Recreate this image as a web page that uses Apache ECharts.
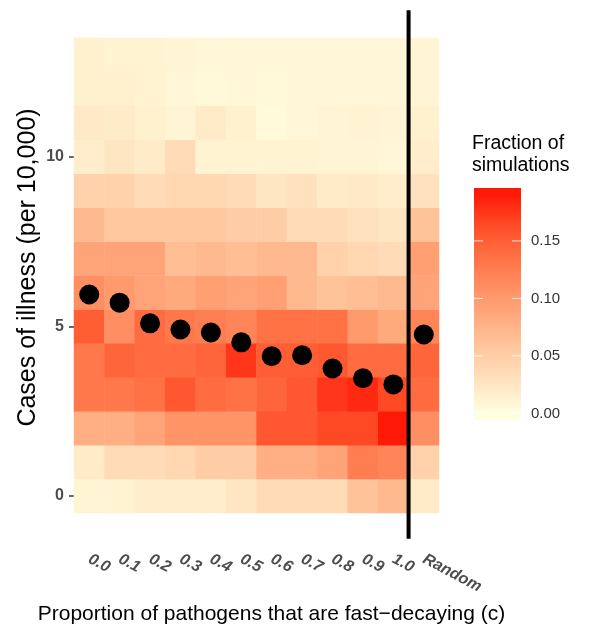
<!DOCTYPE html>
<html>
<head>
<meta charset="utf-8">
<script src="https://cdn.jsdelivr.net/npm/echarts@6/dist/echarts.min.js"></script>
<style>
  html, body { margin: 0; padding: 0; background: #fff; }
  #chart { width: 597px; height: 630px; }
</style>
</head>
<body>
<div id="chart"></div>
<script>
var xLabels = ['0.0', '0.1', '0.2', '0.3', '0.4', '0.5', '0.6', '0.7', '0.8', '0.9', '1.0', 'Random']
var yRows = ['0', '1', '2', '3', '4', '5', '6', '7', '8', '9', '10', '11', '12', '13']
var yTicks = [0, 5, 10]

// fraction of simulations in each cell, one list per column, rows 0 .. 13
var frac_00 = [0.010, 0.020, 0.080, 0.130, 0.130, 0.150, 0.110, 0.090, 0.070, 0.045, 0.018, 0.022, 0.015, 0.015]
var frac_01 = [0.012, 0.035, 0.080, 0.130, 0.145, 0.110, 0.100, 0.090, 0.055, 0.045, 0.025, 0.020, 0.015, 0.012]
var frac_02 = [0.018, 0.035, 0.090, 0.135, 0.140, 0.140, 0.090, 0.090, 0.055, 0.035, 0.020, 0.015, 0.012, 0.012]
var frac_03 = [0.018, 0.040, 0.105, 0.155, 0.140, 0.130, 0.085, 0.065, 0.055, 0.040, 0.035, 0.010, 0.008, 0.010]
var frac_04 = [0.018, 0.050, 0.105, 0.140, 0.145, 0.125, 0.095, 0.070, 0.055, 0.040, 0.012, 0.020, 0.006, 0.008]
var frac_05 = [0.025, 0.050, 0.105, 0.135, 0.175, 0.120, 0.090, 0.065, 0.050, 0.035, 0.012, 0.015, 0.008, 0.008]
var frac_06 = [0.035, 0.080, 0.155, 0.145, 0.150, 0.135, 0.095, 0.070, 0.050, 0.025, 0.012, 0.005, 0.006, 0.008]
var frac_07 = [0.035, 0.080, 0.155, 0.155, 0.150, 0.135, 0.070, 0.070, 0.035, 0.030, 0.012, 0.008, 0.008, 0.008]
var frac_08 = [0.035, 0.090, 0.165, 0.175, 0.155, 0.135, 0.060, 0.045, 0.035, 0.020, 0.010, 0.010, 0.008, 0.008]
var frac_09 = [0.060, 0.125, 0.165, 0.182, 0.140, 0.100, 0.065, 0.040, 0.030, 0.022, 0.010, 0.012, 0.008, 0.008]
var frac_10 = [0.070, 0.120, 0.190, 0.165, 0.140, 0.085, 0.070, 0.035, 0.025, 0.018, 0.008, 0.010, 0.008, 0.008]
var frac_rnd = [0.020, 0.045, 0.110, 0.140, 0.145, 0.120, 0.090, 0.095, 0.060, 0.030, 0.018, 0.015, 0.010, 0.010]
var fractions = [frac_00, frac_01, frac_02, frac_03, frac_04, frac_05, frac_06, frac_07, frac_08, frac_09, frac_10, frac_rnd]

// mean cases of illness per column (black dots)
var means = [5.94, 5.70, 5.09, 4.91, 4.82, 4.53, 4.12, 4.15, 3.76, 3.47, 3.29, 4.76]

var legendTicks = [0.00, 0.05, 0.10, 0.15]
var fracMax = 0.19

// lightyellow -> red, sampled along ggplot's Lab gradient
var colorStops = ['#FFFFE0', '#FFE7C4', '#FFD0A8', '#FFB88D', '#FF9F72', '#FF8558', '#FF693E', '#FF4723', '#FF1A08']

var heatData = []
fractions.forEach(function (col, i) {
    col.forEach(function (v, j) {
        heatData.push([i, j, v])
    })
})
var dotData = means.map(function (m, i) { return [i, m] })

var chart = echarts.init(document.getElementById('chart'))

// colour bar drawn by hand (ggplot style, with tick labels)
var barX = 474, barTop = 188, barW = 47
var barVTop = 0.196, barVBottom = -0.006, pxPerUnit = 1150
function barY(v) {
    return barTop + (barVTop - v) * pxPerUnit
}
var gradStops = [{ offset: 0, color: colorStops[colorStops.length - 1] }]
for (var k = colorStops.length - 1; k >= 0; k--) {
    var val = k / (colorStops.length - 1) * fracMax
    gradStops.push({ offset: (barVTop - val) / (barVTop - barVBottom), color: colorStops[k] })
}
gradStops.push({ offset: 1, color: colorStops[0] })

var legendGraphics = [
    {
        type: 'rect',
        shape: { x: barX, y: barTop, width: barW, height: (barVTop - barVBottom) * pxPerUnit },
        style: { fill: new echarts.graphic.LinearGradient(0, 0, 0, 1, gradStops) }
    },
    {
        type: 'text',
        left: 472, top: 133,
        style: { text: 'Fraction of\nsimulations', font: '19.5px "Liberation Sans", Arial, sans-serif', fill: '#000', lineHeight: 22 }
    }
]
legendTicks.forEach(function (t) {
    var y = barY(t)
    legendGraphics.push({ type: 'line', shape: { x1: barX, y1: y, x2: barX + 9, y2: y }, style: { stroke: 'rgba(255,255,255,0.8)', lineWidth: 1 } })
    legendGraphics.push({ type: 'line', shape: { x1: barX + barW - 9, y1: y, x2: barX + barW, y2: y }, style: { stroke: 'rgba(255,255,255,0.8)', lineWidth: 1 } })
    legendGraphics.push({
        type: 'text', x: 531, y: y,
        style: { text: t.toFixed(2), font: '15px "Liberation Sans", Arial, sans-serif', fill: '#333', verticalAlign: 'middle' }
    })
})

var font = '"Liberation Sans", Arial, sans-serif'

var option = {
    animation: false,
    backgroundColor: '#fff',
    grid: { left: 74, right: 158, top: 38, bottom: 116 },
    xAxis: [
        {
            type: 'category',
            data: xLabels,
            axisLine: { show: false },
            axisTick: { show: false },
            axisLabel: {
                rotate: -28, margin: 45, interval: 0,
                fontFamily: font, fontSize: 16, fontWeight: 'bold', fontStyle: 'italic', color: '#4D4D4D'
            },
            name: 'Proportion of pathogens that are fast\u2212decaying (c)',
            nameLocation: 'middle',
            nameGap: 91,
            nameTextStyle: { fontFamily: font, fontSize: 21, color: '#000', padding: [0, 0, 0, 30] }
        },
        { type: 'value', min: -0.5, max: 11.5, show: false }
    ],
    yAxis: [
        {
            type: 'category',
            data: yRows,
            axisLine: { show: false },
            axisTick: { show: false },
            axisLabel: { show: false },
            name: 'Cases of illness (per 10,000)',
            nameLocation: 'middle',
            nameGap: 33,
            nameTextStyle: { fontFamily: font, fontSize: 25, color: '#000', padding: [0, 0, 0, 16] }
        },
        {
            type: 'value',
            min: -0.5,
            max: 13.5,
            position: 'left',
            splitLine: { show: false },
            axisLine: { show: true, lineStyle: { color: 'rgba(0,0,0,0)' } },
            axisTick: {
                show: true, length: 5,
                customValues: yTicks,
                lineStyle: { color: '#333', width: 1.5 }
            },
            axisLabel: {
                show: true,
                margin: 10,
                customValues: yTicks,
                fontFamily: font, fontSize: 16, fontWeight: 'bold', color: '#4D4D4D'
            }
        }
    ],
    visualMap: {
        type: 'continuous',
        show: false,
        min: 0,
        max: fracMax,
        seriesIndex: 0,
        inRange: { color: colorStops }
    },
    series: [
        {
            type: 'heatmap',
            data: heatData,
            emphasis: { disabled: true },
            itemStyle: { borderWidth: 0 }
        },
        {
            type: 'line',
            xAxisIndex: 1,
            yAxisIndex: 1,
            data: [[10.5, -1.26], [10.5, 14.32]],
            clip: false,
            symbol: 'none',
            silent: true,
            z: 3,
            lineStyle: { color: '#000', width: 4 }
        },
        {
            type: 'scatter',
            xAxisIndex: 1,
            yAxisIndex: 1,
            data: dotData,
            symbolSize: 20,
            z: 4,
            itemStyle: { color: '#000', opacity: 1 }
        }
    ],
    graphic: legendGraphics
}
chart.setOption(option)
</script>
</body>
</html>
